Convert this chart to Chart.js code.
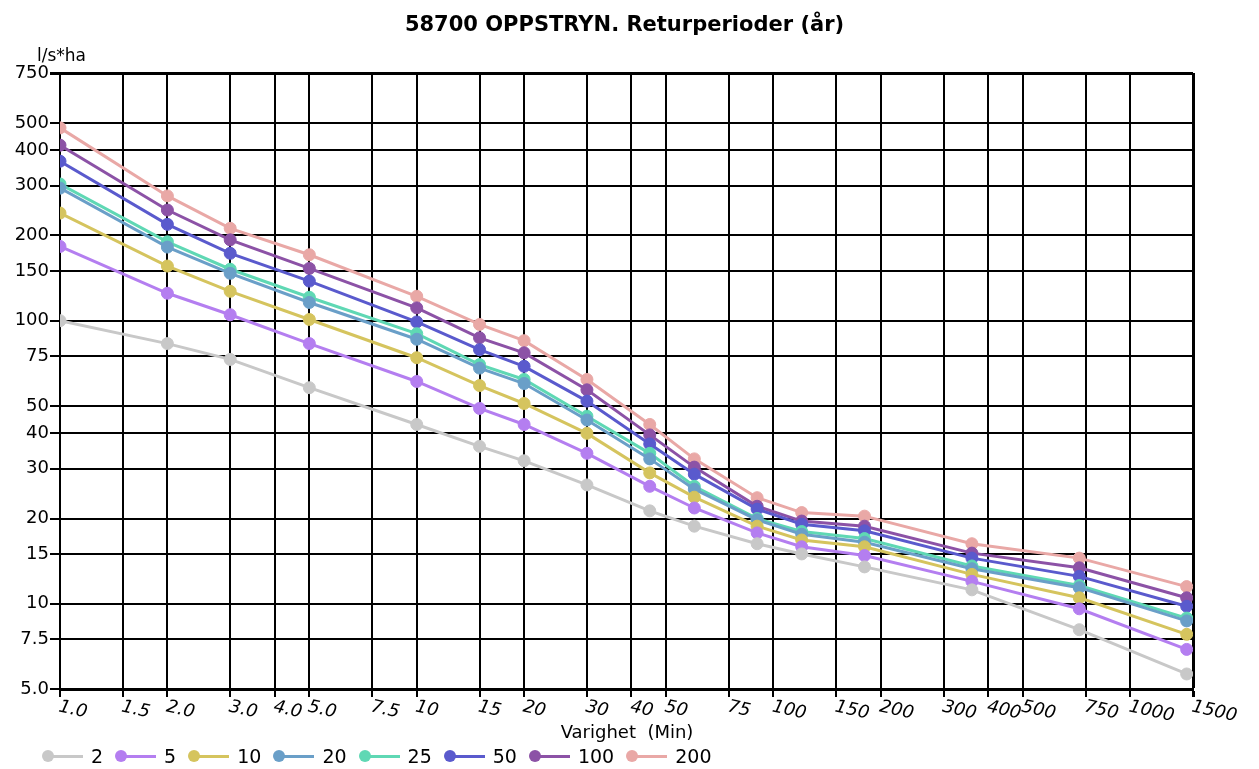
<!DOCTYPE html>
<html>
<head>
<meta charset="utf-8">
<script src="https://cdn.jsdelivr.net/npm/chart.js@4.4.1/dist/chart.umd.min.js"></script>
<style>
  body { margin: 0; background: #fff; font-family: "DejaVu Sans", sans-serif; }
  #wrap { position: relative; width: 1259px; height: 769px; overflow: hidden; }
  #chart { position: absolute; left: 0; top: 0; }
  #title { position: absolute; top: 12px; left: 0; width: 1249px; text-align: center; font-size: 21px; font-weight: bold; color: #000; }
  #unit { position: absolute; top: 45px; left: 37px; font-size: 17px; color: #000; }
  #xtitle { position: absolute; top: 721px; left: 0; width: 1254px; text-align: center; font-size: 18px; color: #000; }
  #legend { position: absolute; top: 745px; left: 42px; display: flex; align-items: center; font-size: 19px; color: #000; }
  .item { display: flex; align-items: center; margin-right: 12px; }
  .mark { position: relative; width: 41px; height: 14px; }
  .mark .ln { position: absolute; left: 6px; top: 6px; width: 35px; height: 3px; }
  .mark .dot { position: absolute; left: 0; top: 1px; width: 12px; height: 12px; border-radius: 50%; }
  .item span.t { margin-left: 8px; }
</style>
</head>
<body>
<div id="wrap">
  <canvas id="chart" width="1259" height="769"></canvas>
  <div id="title">58700 OPPSTRYN. Returperioder (år)</div>
  <div id="unit">l/s*ha</div>
  <div id="xtitle">Varighet&nbsp;&nbsp;(Min)</div>
  <div id="legend"></div>
</div>
<script>
// varighet i minutter
const durations = [1, 2, 3, 5, 10, 15, 20, 30, 45, 60, 90, 120, 180, 360, 720, 1440];

// returperioder (år)
const periods = ["2", "5", "10", "20", "25", "50", "100", "200"];
const colors = ["#c8c8c8", "#b47ef0", "#d5c45e", "#6a9fc8", "#5fd8b4", "#5a5acd", "#8c52a6", "#e9a8a6"];

// intensitet l/s*ha
const p2 = [100, 83, 73, 58, 43, 36, 32, 26.3, 21.3, 18.8, 16.3, 15.0, 13.5, 11.2, 8.1, 5.65];
const p5 = [183, 125, 105, 83, 61, 49, 43, 34, 26, 21.8, 17.8, 15.9, 14.8, 12.0, 9.6, 6.9];
const p10 = [240, 156, 127, 101, 74, 59, 51, 40, 29, 23.8, 18.8, 16.8, 15.9, 12.7, 10.5, 7.8];
const p20 = [294, 182, 147, 116, 86, 68, 60, 44.6, 32.5, 25.4, 19.8, 17.6, 16.5, 13.3, 11.4, 8.7];
const p25 = [304, 190, 152, 121, 90, 70, 62, 46, 34, 26, 20, 18, 17, 13.6, 11.6, 8.9];
const p50 = [366, 219, 173, 138, 99, 79, 69, 52, 36.7, 28.7, 21.6, 19.1, 18.1, 14.5, 12.5, 9.8];
const p100 = [417, 246, 193, 153, 111, 87, 77, 57, 39.5, 30.4, 22.1, 19.6, 18.8, 15.1, 13.4, 10.5];
const p200 = [480, 276, 212, 171, 122, 97, 85, 62, 43, 32.5, 23.7, 21, 20.4, 16.3, 14.5, 11.5];
const series = [p2, p5, p10, p20, p25, p50, p100, p200];

// akser
const xTickValues = [1, 1.5, 2, 3, 4, 5, 7.5, 10, 15, 20, 30, 40, 50, 75, 100, 150, 200, 300, 400, 500, 750, 1000, 1500];
const xTickLabels = ["1.0", "1.5", "2.0", "3.0", "4.0", "5.0", "7.5", "10", "15", "20", "30", "40", "50", "75", "100", "150", "200", "300", "400", "500", "750", "1000", "1500"];
const yTickValues = [5, 7.5, 10, 15, 20, 30, 40, 50, 75, 100, 150, 200, 300, 400, 500, 750];
const yTickLabels = ["5.0", "7.5", "10", "15", "20", "30", "40", "50", "75", "100", "150", "200", "300", "400", "500", "750"];

function buildLegend() {
  const el = document.getElementById("legend");
  periods.forEach((p, i) => {
    el.innerHTML += `
      <div class="item">
        <div class="mark"><div class="ln" style="background:${colors[i]}"></div><div class="dot" style="background:${colors[i]}"></div></div>
        <span class="t">${p}</span>
      </div>`;
  });
}

// skrå etiketter under x-aksen
const slantedTicks = {
  id: "slantedTicks",
  afterDraw(chart) {
    const sc = chart.scales.x;
    const ctx = chart.ctx;
    ctx.save();
    ctx.font = 'italic 18px "DejaVu Sans"';
    ctx.fillStyle = "#000";
    ctx.textBaseline = "top";
    ctx.textAlign = "left";
    xTickValues.forEach((v, i) => {
      const px = sc.getPixelForValue(v);
      ctx.save();
      ctx.translate(px + 1, sc.top + 9);
      ctx.rotate(0.22);
      ctx.fillText(xTickLabels[i], 0, 0);
      ctx.restore();
    });
    ctx.restore();
  }
};

function edgeWidth(c, edgeValue) {
  return c.tick && c.tick.value === edgeValue ? 3 : 2;
}

buildLegend();

new Chart(document.getElementById("chart"), {
  type: "line",
  data: {
    datasets: periods.map((p, i) => ({
      label: p,
      data: durations.map((d, j) => ({ x: d, y: series[i][j] })),
      borderColor: colors[i],
      backgroundColor: colors[i],
      pointBackgroundColor: colors[i],
      pointBorderColor: colors[i],
      borderWidth: 3,
      pointRadius: 6,
      pointBorderWidth: 1,
      tension: 0
    }))
  },
  options: {
    responsive: false,
    animation: false,
    layout: { padding: { left: 0, top: 73, right: 66, bottom: 50 } },
    plugins: { legend: { display: false }, title: { display: false }, tooltip: { enabled: false } },
    scales: {
      x: {
        type: "logarithmic",
        min: 1,
        max: 1500,
        afterBuildTicks: s => { s.ticks = xTickValues.map(v => ({ value: v })); },
        afterFit: s => { s.height = 30; },
        ticks: { display: false, autoSkip: false },
        grid: { color: "#000", lineWidth: c => edgeWidth(c, 1500), tickLength: 8, drawTicks: true },
        border: { display: true, color: "#000", width: 3 }
      },
      y: {
        type: "logarithmic",
        min: 5,
        max: 750,
        afterBuildTicks: s => { s.ticks = yTickValues.map(v => ({ value: v })); },
        afterFit: s => { s.width = 60; },
        ticks: {
          autoSkip: false,
          color: "#000",
          padding: 1,
          font: { family: "DejaVu Sans", size: 18 },
          callback: (v, i) => yTickLabels[i]
        },
        grid: { color: "#000", lineWidth: c => edgeWidth(c, 750), tickLength: 10 },
        border: { display: true, color: "#000", width: 2 }
      }
    }
  },
  plugins: [slantedTicks]
});
</script>
</body>
</html>
